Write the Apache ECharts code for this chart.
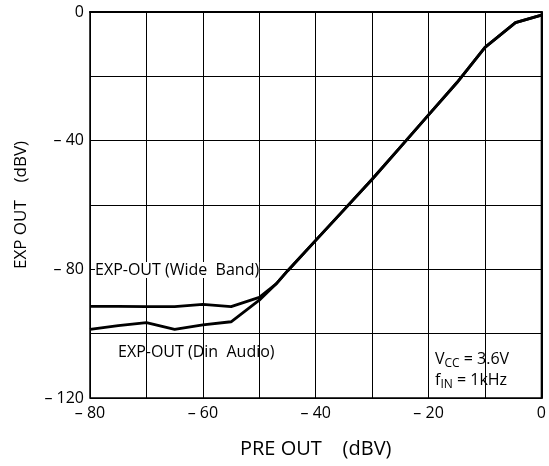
<!DOCTYPE html>
<html>
<head>
<meta charset="utf-8">
<script src="https://cdn.jsdelivr.net/npm/echarts@6/dist/echarts.min.js"></script>
<style>html,body{margin:0;padding:0;background:#fff}#c{width:549px;height:466px}</style>
</head>
<body>
<div id="c"></div>
<script>
// PRE OUT (dBV) vs EXP OUT (dBV)
const commonUpper = [[-45,-80.5],[-40,-71],[-35,-61.5],[-30,-52],[-25,-42],[-20,-32],[-15,-22],[-10,-11],[-4.6,-3.3],[0,-1]];
const wideBandLow = [[-80,-91.5],[-75,-91.5],[-70,-91.6],[-65,-91.6],[-60,-90.9],[-55,-91.6],[-50,-88.7],[-47,-84.5]];
const dinAudioLow = [[-80,-98.7],[-75,-97.5],[-70,-96.6],[-65,-98.7],[-60,-97.3],[-55,-96.3],[-50,-89.6],[-47,-84.5]];
const xTicks = {min:-80, max:0, step:10, labelStep:20};
const yTicks = {min:-120, max:0, step:20, labelStep:40};
const xTitle = 'PRE OUT    (dBV)';
const yTitle = 'EXP OUT    (dBV)';
const wideLabel = 'EXP-OUT (Wide  Band)';
const dinLabel = 'EXP-OUT (Din  Audio)';

const wideBand = wideBandLow.concat(commonUpper);
const dinAudio = dinAudioLow.concat(commonUpper);
const font = '"Open Sans", "DejaVu Sans", sans-serif';
const fmtStep = step => v => (Math.round(v) % step !== 0) ? '' : (v < 0 ? '– ' + Math.abs(v) : String(v));

const chart = echarts.init(document.getElementById('c'));
chart.setOption({
  animation: false,
  backgroundColor: '#fff',
  grid: {left: 90, right: 6, top: 12, bottom: 68, show: true, borderColor: '#000', borderWidth: 1.5},
  xAxis: {
    type: 'value', min: xTicks.min, max: xTicks.max, interval: xTicks.step,
    name: xTitle, nameLocation: 'middle', nameGap: 41,
    nameTextStyle: {fontFamily: font, fontSize: 20, color: '#000'},
    axisLine: {lineStyle: {color: '#000', width: 2}},
    axisTick: {show: false},
    axisLabel: {formatter: fmtStep(xTicks.labelStep), fontFamily: font, fontSize: 16, color: '#000', margin: 7},
    splitLine: {lineStyle: {color: '#000', width: 1}}
  },
  yAxis: {
    type: 'value', min: yTicks.min, max: yTicks.max, interval: yTicks.step,
    name: yTitle, nameLocation: 'middle', nameGap: 60,
    nameTextStyle: {fontFamily: font, fontSize: 17, color: '#000'},
    axisLine: {lineStyle: {color: '#000', width: 2}},
    axisTick: {show: false},
    axisLabel: {formatter: fmtStep(yTicks.labelStep), fontFamily: font, fontSize: 16, color: '#000', margin: 6},
    splitLine: {lineStyle: {color: '#000', width: 1}}
  },
  series: [
    {type: 'line', data: wideBand, symbol: 'none', lineStyle: {color: '#000', width: 2.8}},
    {type: 'line', data: dinAudio, symbol: 'none', lineStyle: {color: '#000', width: 2.8}}
  ],
  graphic: [
    {type: 'text', left: 95, top: 262, z: 100,
     style: {text: wideLabel, font: '16px ' + font, fill: '#000', backgroundColor: '#fff'}},
    {type: 'text', left: 118, top: 344, z: 100,
     style: {text: dinLabel, font: '16px ' + font, fill: '#000'}},
    {type: 'text', left: 435, top: 351, z: 100,
     style: {
       text: '{n|V}{s|CC}{n| = 3.6V}\n{n|f}{s|IN}{n| = 1kHz}',
       rich: {
         n: {fontFamily: font, fontSize: 16, fill: '#000', lineHeight: 21, verticalAlign: 'bottom'},
         s: {fontFamily: font, fontSize: 12, fill: '#000', lineHeight: 21, verticalAlign: 'bottom', padding: [0,0,-3,0]}
       }
     }}
  ]
});
</script>
</body>
</html>
